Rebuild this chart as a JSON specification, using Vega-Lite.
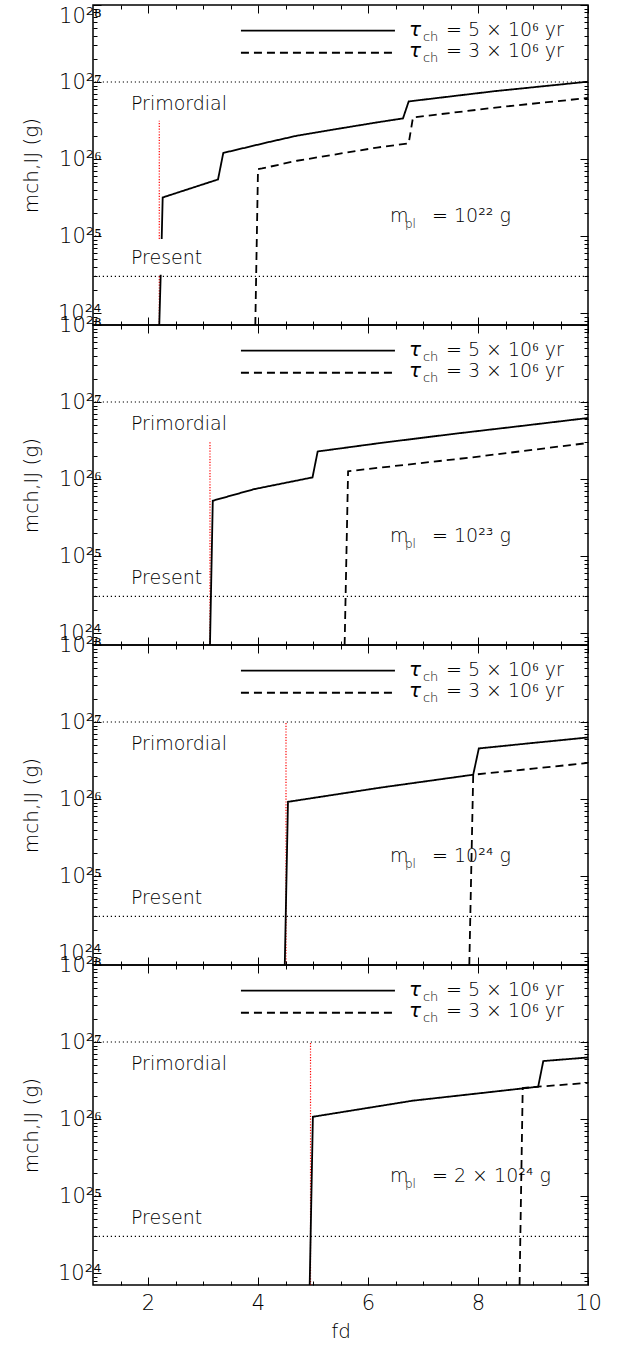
{
  "$schema": "https://vega.github.io/schema/vega-lite/v6.json",
  "background": "white",
  "padding": {"left": 20, "top": 4, "right": 5, "bottom": 5},
  "bounds": "flush",
  "spacing": 0,
  "datasets": {
    "hlines": [{"m": 1e27}, {"m": 3e24}],
    "labels": [
      {"name": "Primordial", "fd": 1.69, "m": 4.33e26},
      {"name": "Present", "fd": 1.69, "m": 4.33e24}
    ],
    "legend": [
      {"tau": "5", "x1": 3.69, "x2": 6.49, "y": 4.64e27, "tx": 6.745, "ty": 3.99e27, "main": "τ", "sub": "ch", "rest": "= 5 × 10⁶ yr"},
      {"tau": "3", "x1": 3.69, "x2": 6.49, "y": 2.4e27, "tx": 6.745, "ty": 2.09e27, "main": "τ", "sub": "ch", "rest": "= 3 × 10⁶ yr"}
    ],
    "mpl": [
      {"panel": 1, "fd": 6.4, "m": 1.5e25, "main": "m", "sub": "pl", "rest": "= 10²²  g"},
      {"panel": 2, "fd": 6.4, "m": 1.5e25, "main": "m", "sub": "pl", "rest": "= 10²³  g"},
      {"panel": 3, "fd": 6.4, "m": 1.5e25, "main": "m", "sub": "pl", "rest": "= 10²⁴  g"},
      {"panel": 4, "fd": 6.4, "m": 1.5e25, "main": "m", "sub": "pl", "rest": "= 2 × 10²⁴  g"}
    ],
    "red": [
      {"panel": 1, "fd": 2.205, "m1": 7e23, "m2": 3.14e24},
      {"panel": 1, "fd": 2.205, "m1": 9.15e24, "m2": 3.14e26},
      {"panel": 2, "fd": 3.127, "m1": 7e23, "m2": 3.14e26},
      {"panel": 3, "fd": 4.509, "m1": 7e23, "m2": 1e27},
      {"panel": 4, "fd": 4.955, "m1": 7e23, "m2": 1e27}
    ],
    "curves": [
      {"panel": 1, "tau": "5", "seg": "a", "fd": 2.205, "m": 7e23},
      {"panel": 1, "tau": "5", "seg": "a", "fd": 2.231, "m": 3.14e24},
      {"panel": 1, "tau": "5", "seg": "b", "fd": 2.249, "m": 9.15e24},
      {"panel": 1, "tau": "5", "seg": "b", "fd": 2.267, "m": 3.17e25},
      {"panel": 1, "tau": "5", "seg": "b", "fd": 3.273, "m": 5.43e25},
      {"panel": 1, "tau": "5", "seg": "b", "fd": 3.369, "m": 1.2e26},
      {"panel": 1, "tau": "5", "seg": "b", "fd": 4.164, "m": 1.64e26},
      {"panel": 1, "tau": "5", "seg": "b", "fd": 4.709, "m": 2.01e26},
      {"panel": 1, "tau": "5", "seg": "b", "fd": 5.5, "m": 2.5e26},
      {"panel": 1, "tau": "5", "seg": "b", "fd": 6.164, "m": 2.99e26},
      {"panel": 1, "tau": "5", "seg": "b", "fd": 6.636, "m": 3.37e26},
      {"panel": 1, "tau": "5", "seg": "b", "fd": 6.74, "m": 5.6e26},
      {"panel": 1, "tau": "5", "seg": "b", "fd": 8.3, "m": 7.6e26},
      {"panel": 1, "tau": "5", "seg": "b", "fd": 10, "m": 1.01e27},
      {"panel": 1, "tau": "3", "seg": "c", "fd": 3.951, "m": 7e23},
      {"panel": 1, "tau": "3", "seg": "c", "fd": 4.0, "m": 7.4e25},
      {"panel": 1, "tau": "3", "seg": "c", "fd": 4.073, "m": 7.55e25},
      {"panel": 1, "tau": "3", "seg": "c", "fd": 4.709, "m": 9.5e25},
      {"panel": 1, "tau": "3", "seg": "c", "fd": 6.164, "m": 1.41e26},
      {"panel": 1, "tau": "3", "seg": "c", "fd": 6.74, "m": 1.6e26},
      {"panel": 1, "tau": "3", "seg": "c", "fd": 6.818, "m": 3.47e26},
      {"panel": 1, "tau": "3", "seg": "c", "fd": 8.4, "m": 4.73e26},
      {"panel": 1, "tau": "3", "seg": "c", "fd": 10, "m": 6.2e26},
      {"panel": 2, "tau": "5", "seg": "a", "fd": 3.127, "m": 7e23},
      {"panel": 2, "tau": "5", "seg": "a", "fd": 3.178, "m": 5.23e25},
      {"panel": 2, "tau": "5", "seg": "a", "fd": 3.933, "m": 7.4e25},
      {"panel": 2, "tau": "5", "seg": "a", "fd": 4.991, "m": 1.05e26},
      {"panel": 2, "tau": "5", "seg": "a", "fd": 5.085, "m": 2.28e26},
      {"panel": 2, "tau": "5", "seg": "a", "fd": 6.2, "m": 2.92e26},
      {"panel": 2, "tau": "5", "seg": "a", "fd": 7.533, "m": 3.84e26},
      {"panel": 2, "tau": "5", "seg": "a", "fd": 8.8, "m": 4.9e26},
      {"panel": 2, "tau": "5", "seg": "a", "fd": 10, "m": 6.2e26},
      {"panel": 2, "tau": "3", "seg": "c", "fd": 5.575, "m": 7e23},
      {"panel": 2, "tau": "3", "seg": "c", "fd": 5.638, "m": 1.26e26},
      {"panel": 2, "tau": "3", "seg": "c", "fd": 5.75, "m": 1.29e26},
      {"panel": 2, "tau": "3", "seg": "c", "fd": 7.89, "m": 1.91e26},
      {"panel": 2, "tau": "3", "seg": "c", "fd": 10, "m": 2.94e26},
      {"panel": 3, "tau": "5", "seg": "a", "fd": 4.487, "m": 7e23},
      {"panel": 3, "tau": "5", "seg": "a", "fd": 4.545, "m": 9.2e25},
      {"panel": 3, "tau": "5", "seg": "a", "fd": 6.236, "m": 1.41e26},
      {"panel": 3, "tau": "5", "seg": "a", "fd": 7.913, "m": 2.07e26},
      {"panel": 3, "tau": "5", "seg": "a", "fd": 8.015, "m": 4.54e26},
      {"panel": 3, "tau": "5", "seg": "a", "fd": 9.0, "m": 5.35e26},
      {"panel": 3, "tau": "5", "seg": "a", "fd": 10, "m": 6.3e26},
      {"panel": 3, "tau": "3", "seg": "c", "fd": 7.842, "m": 7e23},
      {"panel": 3, "tau": "3", "seg": "c", "fd": 7.913, "m": 2.07e26},
      {"panel": 3, "tau": "3", "seg": "c", "fd": 9.0, "m": 2.48e26},
      {"panel": 3, "tau": "3", "seg": "c", "fd": 10, "m": 2.94e26},
      {"panel": 4, "tau": "5", "seg": "a", "fd": 4.94, "m": 7e23},
      {"panel": 4, "tau": "5", "seg": "a", "fd": 4.998, "m": 1.07e26},
      {"panel": 4, "tau": "5", "seg": "a", "fd": 6.812, "m": 1.73e26},
      {"panel": 4, "tau": "5", "seg": "a", "fd": 8.0, "m": 2.15e26},
      {"panel": 4, "tau": "5", "seg": "a", "fd": 9.094, "m": 2.63e26},
      {"panel": 4, "tau": "5", "seg": "a", "fd": 9.187, "m": 5.66e26},
      {"panel": 4, "tau": "5", "seg": "a", "fd": 10, "m": 6.3e26},
      {"panel": 4, "tau": "3", "seg": "c", "fd": 8.756, "m": 7e23},
      {"panel": 4, "tau": "3", "seg": "c", "fd": 8.813, "m": 2.53e26},
      {"panel": 4, "tau": "3", "seg": "c", "fd": 9.094, "m": 2.63e26},
      {"panel": 4, "tau": "3", "seg": "c", "fd": 10, "m": 2.95e26}
    ]
  },
  "vconcat": [
    {
      "width": 495, "height": 320,
      "layer": [
        {"data": {"name": "hlines"}, "mark": {"type": "rule", "color": "black", "strokeWidth": 1.2, "strokeDash": [1.2, 2.8]},
         "encoding": {"y": {"field": "m", "type": "quantitative", "scale": {"type": "log", "domain": [7e23, 1e28], "nice": false}, "axis": null}}},
        {"data": {"name": "red"}, "transform": [{"filter": "datum.panel == 1"}],
         "mark": {"type": "rule", "color": "#ff0000", "strokeWidth": 1.2, "strokeDash": [1.2, 1.6]},
         "encoding": {
           "x": {"field": "fd", "type": "quantitative", "scale": {"domain": [1, 10], "nice": false, "zero": false}, "axis": {"orient": "bottom", "values": [1.5, 2.5, 3, 3.5, 4.5, 5, 5.5, 6.5, 7, 7.5, 8.5, 9, 9.5], "ticks": false, "labels": false, "title": null, "domain": false, "grid": true, "gridColor": "#000000", "gridWidth": 1, "gridOpacity": 1, "gridDash": [4, 312, 4, 1000], "zindex": 1}},
           "y": {"field": "m1", "type": "quantitative", "axis": {"orient": "left", "values": [8e23, 9e23, 2e24, 3e24, 4e24, 5e24, 6e24, 7e24, 8e24, 9e24, 2e25, 3e25, 4e25, 5e25, 6e25, 7e25, 8e25, 9e25, 2e26, 3e26, 4e26, 5e26, 6e26, 7e26, 8e26, 9e26, 2e27, 3e27, 4e27, 5e27, 6e27, 7e27, 8e27, 9e27], "ticks": false, "labels": false, "title": null, "domain": false, "grid": true, "gridColor": "#000000", "gridWidth": 1, "gridOpacity": 1, "gridDash": [4, 487, 4, 1000], "zindex": 1}},
           "y2": {"field": "m2"}}},
        {"data": {"name": "curves"}, "transform": [{"filter": "datum.panel == 1"}],
         "mark": {"type": "line", "color": "black", "strokeWidth": 1.8},
         "encoding": {
           "x": {"field": "fd", "type": "quantitative", "axis": {"orient": "bottom", "values": [2, 4, 6, 8, 10], "ticks": false, "labels": false, "title": null, "domain": false, "grid": true, "gridColor": "#000000", "gridWidth": 1, "gridOpacity": 1, "gridDash": [8, 304, 8, 1000], "zindex": 1}},
           "y": {"field": "m", "type": "quantitative", "axis": {"orient": "left", "values": [1e24, 1e25, 1e26, 1e27, 1e28], "ticks": false, "domain": false, "grid": true, "gridColor": "#000000", "gridWidth": 1, "gridOpacity": 1, "gridDash": [8, 479, 8, 1000], "zindex": 1, "labelExpr": "datum.value > 5e27 ? '10²⁸' : datum.value > 5e26 ? '10²⁷' : datum.value > 5e25 ? '10²⁶' : datum.value > 5e24 ? '10²⁵' : '10²⁴'", "labelBaseline": {"condition": {"test": "datum.value > 5e27", "value": "top"}, "value": "middle"}, "labelFont": "DejaVu Sans", "labelFontWeight": 300, "labelColor": "black", "labelFontSize": 21, "labelPadding": -8, "labelOverlap": false, "labelFlush": false, "title": "mch,IJ (g)", "titleFont": "DejaVu Sans", "titleFontWeight": 300, "titleColor": "black", "titleFontSize": 20, "titlePadding": 16}},
           "strokeDash": {"field": "tau", "type": "nominal", "scale": {"domain": ["5", "3"], "range": [[1, 0], [8, 5]]}, "legend": null},
           "detail": {"field": "seg"}}},
        {"data": {"name": "legend"}, "mark": {"type": "rule", "color": "black", "strokeWidth": 1.8},
         "encoding": {"x": {"field": "x1", "type": "quantitative", "axis": null}, "x2": {"field": "x2"}, "y": {"field": "y", "type": "quantitative", "axis": null}, "strokeDash": {"field": "tau", "type": "nominal", "legend": null}}},
        {"data": {"name": "legend"}, "mark": {"type": "text", "align": "left", "baseline": "alphabetic", "fontSize": 20, "fontStyle": "italic", "fill": "black"},
         "encoding": {"x": {"field": "tx", "type": "quantitative", "axis": null}, "y": {"field": "ty", "type": "quantitative", "axis": null}, "text": {"field": "main"}}},
        {"data": {"name": "legend"}, "mark": {"type": "text", "align": "left", "baseline": "alphabetic", "fontSize": 13, "dx": 14, "dy": 5, "fill": "black"},
         "encoding": {"x": {"field": "tx", "type": "quantitative", "axis": null}, "y": {"field": "ty", "type": "quantitative", "axis": null}, "text": {"field": "sub"}}},
        {"data": {"name": "legend"}, "mark": {"type": "text", "align": "left", "baseline": "alphabetic", "fontSize": 19, "dx": 37, "fill": "black"},
         "encoding": {"x": {"field": "tx", "type": "quantitative", "axis": null}, "y": {"field": "ty", "type": "quantitative", "axis": null}, "text": {"field": "rest"}}},
        {"data": {"name": "labels"}, "mark": {"type": "text", "align": "left", "baseline": "alphabetic", "fontSize": 19, "fill": "black"},
         "encoding": {"x": {"field": "fd", "type": "quantitative", "axis": null}, "y": {"field": "m", "type": "quantitative", "axis": null}, "text": {"field": "name"}}},
        {"data": {"name": "mpl"}, "transform": [{"filter": "datum.panel == 1"}], "mark": {"type": "text", "align": "left", "baseline": "alphabetic", "fontSize": 19, "fill": "black"},
         "encoding": {"x": {"field": "fd", "type": "quantitative", "axis": null}, "y": {"field": "m", "type": "quantitative", "axis": null}, "text": {"field": "main"}}},
        {"data": {"name": "mpl"}, "transform": [{"filter": "datum.panel == 1"}], "mark": {"type": "text", "align": "left", "baseline": "alphabetic", "fontSize": 12, "dx": 15, "dy": 6, "fill": "black"},
         "encoding": {"x": {"field": "fd", "type": "quantitative", "axis": null}, "y": {"field": "m", "type": "quantitative", "axis": null}, "text": {"field": "sub"}}},
        {"data": {"name": "mpl"}, "transform": [{"filter": "datum.panel == 1"}], "mark": {"type": "text", "align": "left", "baseline": "alphabetic", "fontSize": 19, "dx": 42, "fill": "black"},
         "encoding": {"x": {"field": "fd", "type": "quantitative", "axis": null}, "y": {"field": "m", "type": "quantitative", "axis": null}, "text": {"field": "rest"}}}
      ],
      "resolve": {"axis": {"x": "independent", "y": "independent"}}
    },
    {
      "width": 495, "height": 320,
      "layer": [
        {"data": {"name": "hlines"}, "mark": {"type": "rule", "color": "black", "strokeWidth": 1.2, "strokeDash": [1.2, 2.8]},
         "encoding": {"y": {"field": "m", "type": "quantitative", "scale": {"type": "log", "domain": [7e23, 1e28], "nice": false}, "axis": null}}},
        {"data": {"name": "red"}, "transform": [{"filter": "datum.panel == 2"}],
         "mark": {"type": "rule", "color": "#ff0000", "strokeWidth": 1.2, "strokeDash": [1.2, 1.6]},
         "encoding": {
           "x": {"field": "fd", "type": "quantitative", "scale": {"domain": [1, 10], "nice": false, "zero": false}, "axis": {"orient": "bottom", "values": [1.5, 2.5, 3, 3.5, 4.5, 5, 5.5, 6.5, 7, 7.5, 8.5, 9, 9.5], "ticks": false, "labels": false, "title": null, "domain": false, "grid": true, "gridColor": "#000000", "gridWidth": 1, "gridOpacity": 1, "gridDash": [4, 312, 4, 1000], "zindex": 1}},
           "y": {"field": "m1", "type": "quantitative", "axis": {"orient": "left", "values": [8e23, 9e23, 2e24, 3e24, 4e24, 5e24, 6e24, 7e24, 8e24, 9e24, 2e25, 3e25, 4e25, 5e25, 6e25, 7e25, 8e25, 9e25, 2e26, 3e26, 4e26, 5e26, 6e26, 7e26, 8e26, 9e26, 2e27, 3e27, 4e27, 5e27, 6e27, 7e27, 8e27, 9e27], "ticks": false, "labels": false, "title": null, "domain": false, "grid": true, "gridColor": "#000000", "gridWidth": 1, "gridOpacity": 1, "gridDash": [4, 487, 4, 1000], "zindex": 1}},
           "y2": {"field": "m2"}}},
        {"data": {"name": "curves"}, "transform": [{"filter": "datum.panel == 2"}],
         "mark": {"type": "line", "color": "black", "strokeWidth": 1.8},
         "encoding": {
           "x": {"field": "fd", "type": "quantitative", "axis": {"orient": "bottom", "values": [2, 4, 6, 8, 10], "ticks": false, "labels": false, "title": null, "domain": false, "grid": true, "gridColor": "#000000", "gridWidth": 1, "gridOpacity": 1, "gridDash": [8, 304, 8, 1000], "zindex": 1}},
           "y": {"field": "m", "type": "quantitative", "axis": {"orient": "left", "values": [1e24, 1e25, 1e26, 1e27, 1e28], "ticks": false, "domain": false, "grid": true, "gridColor": "#000000", "gridWidth": 1, "gridOpacity": 1, "gridDash": [8, 479, 8, 1000], "zindex": 1, "labelExpr": "datum.value > 5e27 ? '10²⁸' : datum.value > 5e26 ? '10²⁷' : datum.value > 5e25 ? '10²⁶' : datum.value > 5e24 ? '10²⁵' : '10²⁴'", "labelFont": "DejaVu Sans", "labelFontWeight": 300, "labelColor": "black", "labelFontSize": 21, "labelPadding": -8, "labelOverlap": false, "labelFlush": false, "title": "mch,IJ (g)", "titleFont": "DejaVu Sans", "titleFontWeight": 300, "titleColor": "black", "titleFontSize": 20, "titlePadding": 16}},
           "strokeDash": {"field": "tau", "type": "nominal", "scale": {"domain": ["5", "3"], "range": [[1, 0], [8, 5]]}, "legend": null},
           "detail": {"field": "seg"}}},
        {"data": {"name": "legend"}, "mark": {"type": "rule", "color": "black", "strokeWidth": 1.8},
         "encoding": {"x": {"field": "x1", "type": "quantitative", "axis": null}, "x2": {"field": "x2"}, "y": {"field": "y", "type": "quantitative", "axis": null}, "strokeDash": {"field": "tau", "type": "nominal", "legend": null}}},
        {"data": {"name": "legend"}, "mark": {"type": "text", "align": "left", "baseline": "alphabetic", "fontSize": 20, "fontStyle": "italic", "fill": "black"},
         "encoding": {"x": {"field": "tx", "type": "quantitative", "axis": null}, "y": {"field": "ty", "type": "quantitative", "axis": null}, "text": {"field": "main"}}},
        {"data": {"name": "legend"}, "mark": {"type": "text", "align": "left", "baseline": "alphabetic", "fontSize": 13, "dx": 14, "dy": 5, "fill": "black"},
         "encoding": {"x": {"field": "tx", "type": "quantitative", "axis": null}, "y": {"field": "ty", "type": "quantitative", "axis": null}, "text": {"field": "sub"}}},
        {"data": {"name": "legend"}, "mark": {"type": "text", "align": "left", "baseline": "alphabetic", "fontSize": 19, "dx": 37, "fill": "black"},
         "encoding": {"x": {"field": "tx", "type": "quantitative", "axis": null}, "y": {"field": "ty", "type": "quantitative", "axis": null}, "text": {"field": "rest"}}},
        {"data": {"name": "labels"}, "mark": {"type": "text", "align": "left", "baseline": "alphabetic", "fontSize": 19, "fill": "black"},
         "encoding": {"x": {"field": "fd", "type": "quantitative", "axis": null}, "y": {"field": "m", "type": "quantitative", "axis": null}, "text": {"field": "name"}}},
        {"data": {"name": "mpl"}, "transform": [{"filter": "datum.panel == 2"}], "mark": {"type": "text", "align": "left", "baseline": "alphabetic", "fontSize": 19, "fill": "black"},
         "encoding": {"x": {"field": "fd", "type": "quantitative", "axis": null}, "y": {"field": "m", "type": "quantitative", "axis": null}, "text": {"field": "main"}}},
        {"data": {"name": "mpl"}, "transform": [{"filter": "datum.panel == 2"}], "mark": {"type": "text", "align": "left", "baseline": "alphabetic", "fontSize": 12, "dx": 15, "dy": 6, "fill": "black"},
         "encoding": {"x": {"field": "fd", "type": "quantitative", "axis": null}, "y": {"field": "m", "type": "quantitative", "axis": null}, "text": {"field": "sub"}}},
        {"data": {"name": "mpl"}, "transform": [{"filter": "datum.panel == 2"}], "mark": {"type": "text", "align": "left", "baseline": "alphabetic", "fontSize": 19, "dx": 42, "fill": "black"},
         "encoding": {"x": {"field": "fd", "type": "quantitative", "axis": null}, "y": {"field": "m", "type": "quantitative", "axis": null}, "text": {"field": "rest"}}}
      ],
      "resolve": {"axis": {"x": "independent", "y": "independent"}}
    },
    {
      "width": 495, "height": 320,
      "layer": [
        {"data": {"name": "hlines"}, "mark": {"type": "rule", "color": "black", "strokeWidth": 1.2, "strokeDash": [1.2, 2.8]},
         "encoding": {"y": {"field": "m", "type": "quantitative", "scale": {"type": "log", "domain": [7e23, 1e28], "nice": false}, "axis": null}}},
        {"data": {"name": "red"}, "transform": [{"filter": "datum.panel == 3"}],
         "mark": {"type": "rule", "color": "#ff0000", "strokeWidth": 1.2, "strokeDash": [1.2, 1.6]},
         "encoding": {
           "x": {"field": "fd", "type": "quantitative", "scale": {"domain": [1, 10], "nice": false, "zero": false}, "axis": {"orient": "bottom", "values": [1.5, 2.5, 3, 3.5, 4.5, 5, 5.5, 6.5, 7, 7.5, 8.5, 9, 9.5], "ticks": false, "labels": false, "title": null, "domain": false, "grid": true, "gridColor": "#000000", "gridWidth": 1, "gridOpacity": 1, "gridDash": [4, 312, 4, 1000], "zindex": 1}},
           "y": {"field": "m1", "type": "quantitative", "axis": {"orient": "left", "values": [8e23, 9e23, 2e24, 3e24, 4e24, 5e24, 6e24, 7e24, 8e24, 9e24, 2e25, 3e25, 4e25, 5e25, 6e25, 7e25, 8e25, 9e25, 2e26, 3e26, 4e26, 5e26, 6e26, 7e26, 8e26, 9e26, 2e27, 3e27, 4e27, 5e27, 6e27, 7e27, 8e27, 9e27], "ticks": false, "labels": false, "title": null, "domain": false, "grid": true, "gridColor": "#000000", "gridWidth": 1, "gridOpacity": 1, "gridDash": [4, 487, 4, 1000], "zindex": 1}},
           "y2": {"field": "m2"}}},
        {"data": {"name": "curves"}, "transform": [{"filter": "datum.panel == 3"}],
         "mark": {"type": "line", "color": "black", "strokeWidth": 1.8},
         "encoding": {
           "x": {"field": "fd", "type": "quantitative", "axis": {"orient": "bottom", "values": [2, 4, 6, 8, 10], "ticks": false, "labels": false, "title": null, "domain": false, "grid": true, "gridColor": "#000000", "gridWidth": 1, "gridOpacity": 1, "gridDash": [8, 304, 8, 1000], "zindex": 1}},
           "y": {"field": "m", "type": "quantitative", "axis": {"orient": "left", "values": [1e24, 1e25, 1e26, 1e27, 1e28], "ticks": false, "domain": false, "grid": true, "gridColor": "#000000", "gridWidth": 1, "gridOpacity": 1, "gridDash": [8, 479, 8, 1000], "zindex": 1, "labelExpr": "datum.value > 5e27 ? '10²⁸' : datum.value > 5e26 ? '10²⁷' : datum.value > 5e25 ? '10²⁶' : datum.value > 5e24 ? '10²⁵' : '10²⁴'", "labelFont": "DejaVu Sans", "labelFontWeight": 300, "labelColor": "black", "labelFontSize": 21, "labelPadding": -8, "labelOverlap": false, "labelFlush": false, "title": "mch,IJ (g)", "titleFont": "DejaVu Sans", "titleFontWeight": 300, "titleColor": "black", "titleFontSize": 20, "titlePadding": 16}},
           "strokeDash": {"field": "tau", "type": "nominal", "scale": {"domain": ["5", "3"], "range": [[1, 0], [8, 5]]}, "legend": null},
           "detail": {"field": "seg"}}},
        {"data": {"name": "legend"}, "mark": {"type": "rule", "color": "black", "strokeWidth": 1.8},
         "encoding": {"x": {"field": "x1", "type": "quantitative", "axis": null}, "x2": {"field": "x2"}, "y": {"field": "y", "type": "quantitative", "axis": null}, "strokeDash": {"field": "tau", "type": "nominal", "legend": null}}},
        {"data": {"name": "legend"}, "mark": {"type": "text", "align": "left", "baseline": "alphabetic", "fontSize": 20, "fontStyle": "italic", "fill": "black"},
         "encoding": {"x": {"field": "tx", "type": "quantitative", "axis": null}, "y": {"field": "ty", "type": "quantitative", "axis": null}, "text": {"field": "main"}}},
        {"data": {"name": "legend"}, "mark": {"type": "text", "align": "left", "baseline": "alphabetic", "fontSize": 13, "dx": 14, "dy": 5, "fill": "black"},
         "encoding": {"x": {"field": "tx", "type": "quantitative", "axis": null}, "y": {"field": "ty", "type": "quantitative", "axis": null}, "text": {"field": "sub"}}},
        {"data": {"name": "legend"}, "mark": {"type": "text", "align": "left", "baseline": "alphabetic", "fontSize": 19, "dx": 37, "fill": "black"},
         "encoding": {"x": {"field": "tx", "type": "quantitative", "axis": null}, "y": {"field": "ty", "type": "quantitative", "axis": null}, "text": {"field": "rest"}}},
        {"data": {"name": "labels"}, "mark": {"type": "text", "align": "left", "baseline": "alphabetic", "fontSize": 19, "fill": "black"},
         "encoding": {"x": {"field": "fd", "type": "quantitative", "axis": null}, "y": {"field": "m", "type": "quantitative", "axis": null}, "text": {"field": "name"}}},
        {"data": {"name": "mpl"}, "transform": [{"filter": "datum.panel == 3"}], "mark": {"type": "text", "align": "left", "baseline": "alphabetic", "fontSize": 19, "fill": "black"},
         "encoding": {"x": {"field": "fd", "type": "quantitative", "axis": null}, "y": {"field": "m", "type": "quantitative", "axis": null}, "text": {"field": "main"}}},
        {"data": {"name": "mpl"}, "transform": [{"filter": "datum.panel == 3"}], "mark": {"type": "text", "align": "left", "baseline": "alphabetic", "fontSize": 12, "dx": 15, "dy": 6, "fill": "black"},
         "encoding": {"x": {"field": "fd", "type": "quantitative", "axis": null}, "y": {"field": "m", "type": "quantitative", "axis": null}, "text": {"field": "sub"}}},
        {"data": {"name": "mpl"}, "transform": [{"filter": "datum.panel == 3"}], "mark": {"type": "text", "align": "left", "baseline": "alphabetic", "fontSize": 19, "dx": 42, "fill": "black"},
         "encoding": {"x": {"field": "fd", "type": "quantitative", "axis": null}, "y": {"field": "m", "type": "quantitative", "axis": null}, "text": {"field": "rest"}}}
      ],
      "resolve": {"axis": {"x": "independent", "y": "independent"}}
    },
    {
      "width": 495, "height": 320,
      "layer": [
        {"data": {"name": "hlines"}, "mark": {"type": "rule", "color": "black", "strokeWidth": 1.2, "strokeDash": [1.2, 2.8]},
         "encoding": {"y": {"field": "m", "type": "quantitative", "scale": {"type": "log", "domain": [7e23, 1e28], "nice": false}, "axis": null}}},
        {"data": {"name": "red"}, "transform": [{"filter": "datum.panel == 4"}],
         "mark": {"type": "rule", "color": "#ff0000", "strokeWidth": 1.2, "strokeDash": [1.2, 1.6]},
         "encoding": {
           "x": {"field": "fd", "type": "quantitative", "scale": {"domain": [1, 10], "nice": false, "zero": false}, "axis": {"orient": "bottom", "values": [1.5, 2.5, 3, 3.5, 4.5, 5, 5.5, 6.5, 7, 7.5, 8.5, 9, 9.5], "ticks": false, "labels": false, "title": null, "domain": false, "grid": true, "gridColor": "#000000", "gridWidth": 1, "gridOpacity": 1, "gridDash": [4, 312, 4, 1000], "zindex": 1}},
           "y": {"field": "m1", "type": "quantitative", "axis": {"orient": "left", "values": [8e23, 9e23, 2e24, 3e24, 4e24, 5e24, 6e24, 7e24, 8e24, 9e24, 2e25, 3e25, 4e25, 5e25, 6e25, 7e25, 8e25, 9e25, 2e26, 3e26, 4e26, 5e26, 6e26, 7e26, 8e26, 9e26, 2e27, 3e27, 4e27, 5e27, 6e27, 7e27, 8e27, 9e27], "ticks": false, "labels": false, "title": null, "domain": false, "grid": true, "gridColor": "#000000", "gridWidth": 1, "gridOpacity": 1, "gridDash": [4, 487, 4, 1000], "zindex": 1}},
           "y2": {"field": "m2"}}},
        {"data": {"name": "curves"}, "transform": [{"filter": "datum.panel == 4"}],
         "mark": {"type": "line", "color": "black", "strokeWidth": 1.8},
         "encoding": {
           "x": {"field": "fd", "type": "quantitative", "axis": {"orient": "bottom", "values": [2, 4, 6, 8, 10], "ticks": false, "domain": false, "grid": true, "gridColor": "#000000", "gridWidth": 1, "gridOpacity": 1, "gridDash": [8, 304, 8, 1000], "zindex": 1, "labelFont": "DejaVu Sans", "labelFontWeight": 300, "labelColor": "black", "labelFontSize": 21, "labelFlush": false, "labelOverlap": false, "labelPadding": 7, "title": "fd", "titleFont": "DejaVu Sans", "titleFontWeight": 300, "titleColor": "black", "titleFontSize": 20, "titlePadding": 8}},
           "y": {"field": "m", "type": "quantitative", "axis": {"orient": "left", "values": [1e24, 1e25, 1e26, 1e27, 1e28], "ticks": false, "domain": false, "grid": true, "gridColor": "#000000", "gridWidth": 1, "gridOpacity": 1, "gridDash": [8, 479, 8, 1000], "zindex": 1, "labelExpr": "datum.value > 5e27 ? '10²⁸' : datum.value > 5e26 ? '10²⁷' : datum.value > 5e25 ? '10²⁶' : datum.value > 5e24 ? '10²⁵' : '10²⁴'", "labelFont": "DejaVu Sans", "labelFontWeight": 300, "labelColor": "black", "labelFontSize": 21, "labelPadding": -8, "labelOverlap": false, "labelFlush": false, "title": "mch,IJ (g)", "titleFont": "DejaVu Sans", "titleFontWeight": 300, "titleColor": "black", "titleFontSize": 20, "titlePadding": 16}},
           "strokeDash": {"field": "tau", "type": "nominal", "scale": {"domain": ["5", "3"], "range": [[1, 0], [8, 5]]}, "legend": null},
           "detail": {"field": "seg"}}},
        {"data": {"name": "legend"}, "mark": {"type": "rule", "color": "black", "strokeWidth": 1.8},
         "encoding": {"x": {"field": "x1", "type": "quantitative", "axis": null}, "x2": {"field": "x2"}, "y": {"field": "y", "type": "quantitative", "axis": null}, "strokeDash": {"field": "tau", "type": "nominal", "legend": null}}},
        {"data": {"name": "legend"}, "mark": {"type": "text", "align": "left", "baseline": "alphabetic", "fontSize": 20, "fontStyle": "italic", "fill": "black"},
         "encoding": {"x": {"field": "tx", "type": "quantitative", "axis": null}, "y": {"field": "ty", "type": "quantitative", "axis": null}, "text": {"field": "main"}}},
        {"data": {"name": "legend"}, "mark": {"type": "text", "align": "left", "baseline": "alphabetic", "fontSize": 13, "dx": 14, "dy": 5, "fill": "black"},
         "encoding": {"x": {"field": "tx", "type": "quantitative", "axis": null}, "y": {"field": "ty", "type": "quantitative", "axis": null}, "text": {"field": "sub"}}},
        {"data": {"name": "legend"}, "mark": {"type": "text", "align": "left", "baseline": "alphabetic", "fontSize": 19, "dx": 37, "fill": "black"},
         "encoding": {"x": {"field": "tx", "type": "quantitative", "axis": null}, "y": {"field": "ty", "type": "quantitative", "axis": null}, "text": {"field": "rest"}}},
        {"data": {"name": "labels"}, "mark": {"type": "text", "align": "left", "baseline": "alphabetic", "fontSize": 19, "fill": "black"},
         "encoding": {"x": {"field": "fd", "type": "quantitative", "axis": null}, "y": {"field": "m", "type": "quantitative", "axis": null}, "text": {"field": "name"}}},
        {"data": {"name": "mpl"}, "transform": [{"filter": "datum.panel == 4"}], "mark": {"type": "text", "align": "left", "baseline": "alphabetic", "fontSize": 19, "fill": "black"},
         "encoding": {"x": {"field": "fd", "type": "quantitative", "axis": null}, "y": {"field": "m", "type": "quantitative", "axis": null}, "text": {"field": "main"}}},
        {"data": {"name": "mpl"}, "transform": [{"filter": "datum.panel == 4"}], "mark": {"type": "text", "align": "left", "baseline": "alphabetic", "fontSize": 12, "dx": 15, "dy": 6, "fill": "black"},
         "encoding": {"x": {"field": "fd", "type": "quantitative", "axis": null}, "y": {"field": "m", "type": "quantitative", "axis": null}, "text": {"field": "sub"}}},
        {"data": {"name": "mpl"}, "transform": [{"filter": "datum.panel == 4"}], "mark": {"type": "text", "align": "left", "baseline": "alphabetic", "fontSize": 19, "dx": 42, "fill": "black"},
         "encoding": {"x": {"field": "fd", "type": "quantitative", "axis": null}, "y": {"field": "m", "type": "quantitative", "axis": null}, "text": {"field": "rest"}}}
      ],
      "resolve": {"axis": {"x": "independent", "y": "independent"}}
    }
  ],
  "config": {
    "view": {"stroke": "black", "strokeWidth": 1.5},
    "font": "DejaVu Sans",
    "text": {"font": "DejaVu Sans", "fontWeight": 300, "color": "black"}
  }
}
